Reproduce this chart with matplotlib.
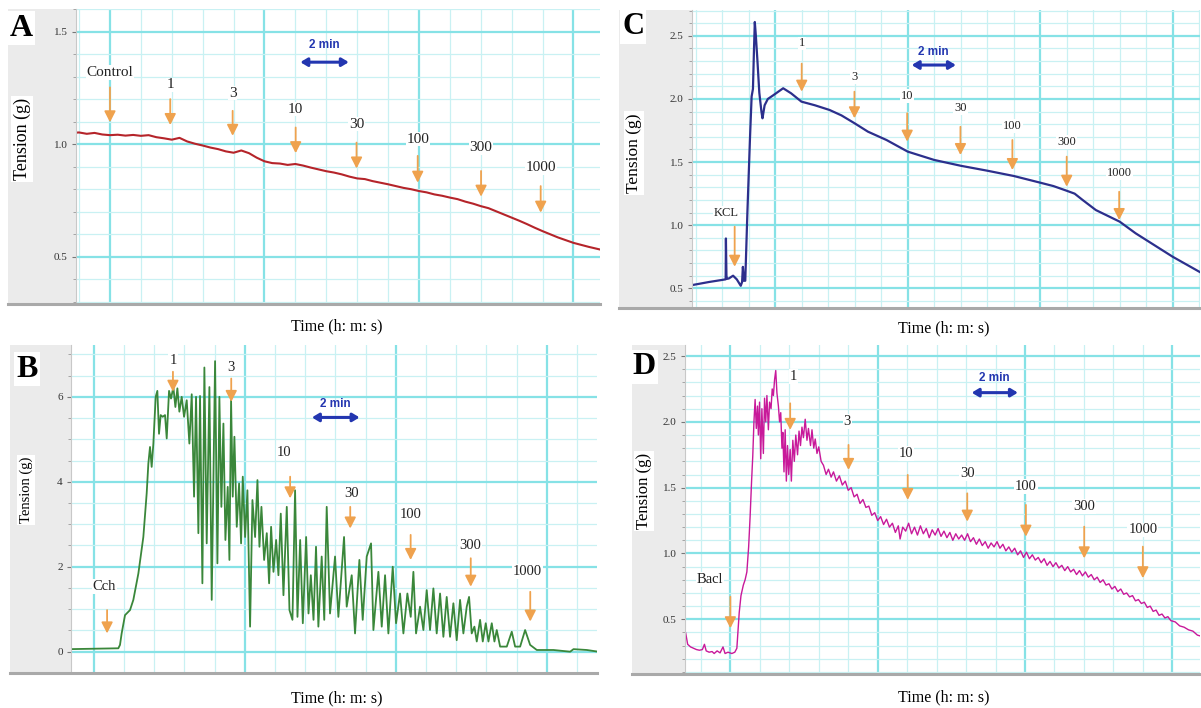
import numpy as np
import matplotlib
matplotlib.use("Agg")
import matplotlib.pyplot as plt
from matplotlib.lines import Line2D
from matplotlib.ticker import MultipleLocator, FormatStrFormatter

plt.rcParams['font.family'] = ['Liberation Serif', 'DejaVu Serif']

# x is in grid units (1 = one minor division); y is tension in g
dose_labels = ["1", "3", "10", "30", "100", "300", "1000"]

# ---- A: control ----
A_t = np.arange(-1.25, 16.01, 0.25)
A_y = [1.050, 1.052, 1.046, 1.050, 1.043, 1.040, 1.042, 1.038, 1.041, 1.037,
       1.040, 1.031, 1.026, 1.020, 1.028, 1.012, 1.002, 0.994, 0.985, 0.978,
       0.968, 0.962, 0.972, 0.960, 0.940, 0.924, 0.916, 0.914, 0.908, 0.912,
       0.905, 0.896, 0.888, 0.880, 0.874, 0.866, 0.856, 0.848, 0.845, 0.836,
       0.829, 0.822, 0.814, 0.806, 0.800, 0.792, 0.786, 0.777, 0.771, 0.763,
       0.756, 0.745, 0.736, 0.725, 0.716, 0.702, 0.688, 0.674, 0.660, 0.645,
       0.629, 0.614, 0.600, 0.586, 0.574, 0.562, 0.553, 0.544, 0.536, 0.528]
A_arrow_x = [0, 1.95, 3.97, 6.01, 7.98, 9.96, 12.01, 13.94]
A_arrow_top = [1.252, 1.200, 1.148, 1.074, 1.007, 0.948, 0.881, 0.814]
A_arrow_tip = [1.097, 1.085, 1.037, 0.960, 0.892, 0.829, 0.767, 0.696]
A_label_y = [1.319, 1.263, 1.227, 1.156, 1.089, 1.022, 0.985, 0.896]

# ---- B: carbachol ----
B_t = [-0.8, 0.812, 0.867, 0.922, 1.033, 1.199, 1.309, 1.475, 1.640, 1.751,
       1.806, 1.861, 1.916, 1.972, 2.049, 2.104, 2.159, 2.214, 2.281, 2.358,
       2.414, 2.491, 2.557, 2.634, 2.701, 2.767, 2.833, 2.910, 2.988, 3.076,
       3.164, 3.242, 3.319, 3.385, 3.462, 3.517, 3.595, 3.661, 3.738, 3.827,
       3.904, 4.015, 4.092, 4.158, 4.224, 4.291, 4.357, 4.434, 4.490, 4.545,
       4.600, 4.655, 4.733, 4.810, 4.876, 4.932, 5.009, 5.086, 5.174, 5.252,
       5.340, 5.418, 5.484, 5.550, 5.639, 5.727, 5.804, 5.870, 5.948, 6.036,
       6.113, 6.190, 6.279, 6.389, 6.478, 6.577, 6.664, 6.743, 6.832, 6.920,
       7.030, 7.108, 7.185, 7.274, 7.357, 7.435, 7.545, 7.630, 7.711, 7.821,
       7.987, 8.097, 8.285, 8.373, 8.539, 8.649, 8.793, 8.903, 9.036, 9.179,
       9.257, 9.422, 9.533, 9.643, 9.753, 9.897, 10.007, 10.139, 10.250, 10.382,
       10.493, 10.581, 10.669, 10.801, 10.912, 11.022, 11.132, 11.243, 11.353, 11.464,
       11.574, 11.684, 11.795, 11.905, 12.015, 12.126, 12.236, 12.347, 12.424, 12.512,
       12.601, 12.679, 12.789, 12.878, 12.977, 13.066, 13.176, 13.264, 13.341, 13.452,
       13.673, 13.838, 13.949, 14.115, 14.280, 14.446, 14.667, 15.219, 15.771, 15.882,
       16.324, 16.700]
B_y = [0.06, 0.08, 0.16, 0.43, 0.86, 0.98, 1.22, 1.84, 2.70, 3.73,
       4.43, 4.82, 4.35, 4.90, 6.00, 6.14, 5.13, 5.57, 5.53, 5.57,
       5.02, 6.14, 5.96, 6.23, 5.76, 6.20, 5.65, 6.00, 5.53, 5.92,
       4.90, 6.06, 3.65, 6.00, 2.79, 6.02, 1.61, 6.69, 2.55, 6.23,
       1.22, 6.84, 2.08, 6.00, 3.41, 5.37, 2.63, 3.88, 2.16, 5.92,
       3.65, 5.06, 2.94, 3.96, 2.55, 4.12, 2.70, 3.80, 0.59, 3.57,
       2.70, 4.04, 2.47, 3.41, 2.16, 2.79, 1.61, 2.94, 1.88, 2.63,
       1.80, 3.25, 1.33, 3.41, 0.98, 0.75, 3.80, 0.82, 2.63, 0.67,
       2.70, 0.90, 1.80, 0.75, 2.47, 0.59, 2.24, 0.75, 3.41, 0.90,
       2.24, 0.82, 2.70, 1.06, 1.80, 0.43, 2.16, 0.75, 2.24, 2.55,
       0.51, 1.88, 0.59, 1.80, 0.43, 2.00, 0.67, 1.37, 0.43, 1.37,
       0.82, 1.88, 0.43, 1.06, 0.51, 1.45, 0.51, 1.49, 0.43, 1.37,
       0.35, 1.29, 0.35, 1.14, 0.27, 1.22, 0.43, 1.06, 1.29, 0.43,
       0.59, 0.24, 0.75, 0.24, 0.67, 0.24, 0.67, 0.24, 0.51, 0.12,
       0.12, 0.47, 0.12, 0.12, 0.51, 0.16, 0.04, 0.04, 0.00, 0.06,
       0.04, 0.00]
B_arrow_x = [0.44, 2.62, 4.55, 6.50, 8.49, 10.49, 12.48, 14.45]
B_arrow_top = [0.98, 6.59, 6.43, 4.12, 3.41, 2.75, 2.20, 1.41]
B_arrow_tip = [0.43, 6.12, 5.88, 3.61, 2.90, 2.16, 1.53, 0.71]
B_label_x = [0.34, 2.62, 4.55, 6.30, 8.53, 10.48, 12.45, 14.36]
B_label_y = [1.53, 6.86, 6.69, 4.68, 3.73, 3.22, 2.51, 1.88]

# ---- C: KCl ----
C_t = [-3.15, -2.5, -1.87, -1.86, -1.84, -1.82, -1.75, -1.59, -1.45, -1.30,
       -1.25, -1.22, -1.18, -1.13, -1.05, -0.95, -0.89, -0.84, -0.80, -0.77,
       -0.73, -0.67, -0.60, -0.52, -0.48, -0.40, -0.28, -0.07, 0.30, 0.60,
       0.99, 1.50, 2.05, 2.50, 3.00, 3.50, 4.20, 5.00, 5.50, 6.00,
       7.00, 8.00, 9.00, 10.00, 10.50, 11.00, 11.30, 11.60, 12.10, 13.00,
       13.60, 14.30, 15.00, 16.10]
C_y = [0.525, 0.550, 0.571, 0.895, 0.600, 0.575, 0.578, 0.600, 0.571, 0.520,
       0.550, 0.670, 0.560, 0.560, 1.100, 1.700, 2.020, 2.080, 2.400, 2.610,
       2.500, 2.300, 2.050, 1.900, 1.847, 1.950, 2.000, 2.030, 2.085, 2.045,
       1.979, 1.950, 1.913, 1.870, 1.807, 1.741, 1.675, 1.583, 1.550, 1.517,
       1.471, 1.432, 1.390, 1.337, 1.310, 1.273, 1.250, 1.200, 1.120, 1.028,
       0.936, 0.843, 0.750, 0.620]
C_arrow_x = [-1.53, 1.00, 2.99, 4.98, 6.99, 8.95, 11.00, 12.98]
C_arrow_top = [0.988, 2.280, 2.058, 1.887, 1.780, 1.675, 1.543, 1.265]
C_arrow_tip = [0.671, 2.058, 1.847, 1.662, 1.556, 1.437, 1.305, 1.041]
C_label_x = [-1.85, 1.00, 2.99, 4.98, 6.99, 8.95, 11.00, 12.98]
C_label_y = [1.094, 2.440, 2.172, 2.024, 1.926, 1.786, 1.662, 1.416]

# ---- D: baclofen ----
D_t = [-1.60, -1.52, -1.45, -1.35, -1.25, -1.15, -1.05, -0.95, -0.88, -0.82,
       -0.72, -0.62, -0.55, -0.45, -0.35, -0.25, -0.18, -0.08, 0.05, 0.15,
       0.22, 0.30, 0.36, 0.44, 0.50, 0.56, 0.62, 0.67, 0.72, 0.76,
       0.80, 0.84, 0.88, 0.92, 0.95, 0.99, 1.03, 1.07, 1.12, 1.16,
       1.20, 1.24, 1.29, 1.33, 1.38, 1.42, 1.46, 1.50, 1.54, 1.58,
       1.63, 1.67, 1.71, 1.75, 1.78, 1.82, 1.86, 1.90, 1.94, 1.98,
       2.03, 2.07, 2.12, 2.17, 2.22, 2.28, 2.33, 2.38, 2.43, 2.48,
       2.54, 2.60, 2.65, 2.72, 2.77, 2.83, 2.88, 2.94, 3.00, 3.08,
       3.16, 3.25, 3.33, 3.42, 3.50, 3.60, 3.70, 3.80, 3.90, 4.00,
       4.10, 4.20, 4.30, 4.40, 4.50, 4.60, 4.70, 4.80, 4.90, 5.00,
       5.10, 5.20, 5.30, 5.40, 5.50, 5.60, 5.70, 5.76, 5.85, 5.95,
       6.05, 6.15, 6.25, 6.35, 6.45, 6.55, 6.65, 6.75, 6.85, 6.95,
       7.05, 7.15, 7.25, 7.35, 7.45, 7.55, 7.65, 7.75, 7.85, 7.95,
       8.05, 8.15, 8.25, 8.35, 8.45, 8.55, 8.65, 8.75, 8.85, 8.95,
       9.05, 9.15, 9.25, 9.35, 9.45, 9.55, 9.65, 9.75, 9.85, 9.95,
       10.05, 10.15, 10.25, 10.35, 10.45, 10.55, 10.65, 10.75, 10.85, 10.95,
       11.05, 11.15, 11.25, 11.35, 11.45, 11.55, 11.65, 11.75, 11.85, 11.95,
       12.05, 12.15, 12.25, 12.35, 12.45, 12.55, 12.65, 12.75, 12.85, 12.95,
       13.05, 13.15, 13.25, 13.35, 13.45, 13.55, 13.65, 13.75, 13.85, 13.95,
       14.05, 14.15, 14.25, 14.35, 14.45, 14.55, 14.65, 14.75, 14.85, 14.95,
       15.10, 15.25, 15.40, 15.55, 15.70, 15.85, 16.00]
D_y = [0.42, 0.40, 0.31, 0.29, 0.28, 0.27, 0.265, 0.27, 0.31, 0.26,
       0.25, 0.255, 0.24, 0.26, 0.245, 0.29, 0.24, 0.25, 0.24, 0.25,
       0.28, 0.55, 0.68, 0.76, 0.80, 0.86, 1.05, 1.28, 1.55, 1.74,
       2.00, 2.17, 1.95, 2.12, 1.90, 2.15, 1.72, 2.10, 1.76, 2.18,
       2.00, 2.20, 1.94, 2.15, 2.10, 2.25, 2.20, 2.32, 2.39, 2.22,
       2.12, 2.00, 2.07, 1.80, 1.92, 1.62, 1.94, 1.55, 1.82, 1.60,
       1.79, 1.55, 1.86, 1.70, 1.90, 1.75, 1.93, 1.82, 1.96, 1.88,
       2.02, 1.86, 1.95, 1.82, 1.94, 1.80, 1.87, 1.76, 1.81, 1.70,
       1.67, 1.60, 1.64, 1.58, 1.62, 1.55, 1.59, 1.52, 1.55, 1.48,
       1.50, 1.43, 1.45, 1.38, 1.41, 1.35, 1.36, 1.29, 1.31, 1.25,
       1.28, 1.22, 1.26, 1.20, 1.23, 1.16, 1.21, 1.11, 1.20, 1.17,
       1.23, 1.15, 1.20, 1.14, 1.21, 1.15, 1.19, 1.12, 1.18, 1.14,
       1.19, 1.13, 1.17, 1.12, 1.16, 1.10, 1.15, 1.11, 1.14, 1.10,
       1.15, 1.09, 1.12, 1.07, 1.11, 1.06, 1.09, 1.04, 1.08, 1.05,
       1.09, 1.04, 1.07, 1.02, 1.05, 1.01, 1.04, 0.99, 1.02, 0.97,
       1.01, 0.96, 0.99, 0.95, 0.97, 0.93, 0.96, 0.91, 0.94, 0.90,
       0.93, 0.89, 0.91, 0.87, 0.90, 0.86, 0.88, 0.84, 0.87, 0.83,
       0.86, 0.82, 0.84, 0.80, 0.82, 0.78, 0.80, 0.76, 0.77, 0.73,
       0.75, 0.71, 0.73, 0.69, 0.70, 0.67, 0.68, 0.64, 0.65, 0.62,
       0.63, 0.59, 0.60, 0.56, 0.57, 0.53, 0.54, 0.51, 0.52, 0.49,
       0.48, 0.45, 0.44, 0.42, 0.41, 0.38, 0.37]
D_arrow_x = [0.0, 2.03, 4.01, 6.02, 8.04, 10.03, 12.01, 14.00]
D_arrow_top = [0.672, 2.141, 1.825, 1.597, 1.457, 1.369, 1.204, 1.052]
D_arrow_tip = [0.432, 1.939, 1.635, 1.407, 1.242, 1.128, 0.963, 0.812]
D_label_x = [-0.69, 2.14, 3.97, 5.96, 8.04, 10.03, 12.01, 14.00]
D_label_y = [0.804, 2.344, 2.002, 1.761, 1.609, 1.508, 1.356, 1.179]

W, H = 1201, 708
GRAY = '#EBEBEB'
GRID_MAJ = '#86E2E6'
GRID_MIN = '#C9F1F3'
ORANGE = '#EFA24E'
BLUE = '#2336B0'

fig = plt.figure(figsize=(W / 100, H / 100), dpi=100)


def px_box(l, t, r, b):
    return [l / W, 1 - b / H, (r - l) / W, (b - t) / H]


def make_panel(strip, plot, xlim, ylim, ymaj, ymin, fmt):
    bg = fig.add_axes(px_box(strip[0], plot[1], plot[0], plot[3]))
    bg.set_facecolor(GRAY)
    bg.set_xticks([])
    bg.set_yticks([])
    for s in bg.spines.values():
        s.set_visible(False)
    ax = fig.add_axes(px_box(*plot))
    ax.set_xlim(xlim)
    ax.set_ylim(ylim)
    ax.xaxis.set_major_locator(MultipleLocator(5))
    ax.xaxis.set_minor_locator(MultipleLocator(1))
    ax.yaxis.set_major_locator(MultipleLocator(ymaj))
    ax.yaxis.set_minor_locator(MultipleLocator(ymin))
    ax.yaxis.set_major_formatter(FormatStrFormatter(fmt))
    ax.grid(which='major', color=GRID_MAJ, lw=1.6)
    ax.grid(which='minor', color=GRID_MIN, lw=0.9)
    ax.set_axisbelow(True)
    ax.tick_params(axis='x', which='both', length=0, labelbottom=False)
    ax.tick_params(axis='y', which='major', length=3, width=0.8, color='#777777',
                   labelsize=8, labelcolor='#333333', pad=3)
    ax.tick_params(axis='y', which='minor', length=2, width=0.6, color='#999999')
    for s in ['top', 'right', 'bottom']:
        ax.spines[s].set_visible(False)
    ax.spines['left'].set_color('#C8C8C8')
    yb = 1 - (plot[3] + 1) / H
    fig.add_artist(Line2D([strip[0] / W, plot[2] / W], [yb, yb], color='#A9A9A9', lw=2.2))
    return ax


def dose_arrows(ax, xs, tops, tips, lxs, lys, labels, size):
    for x, y0, y1 in zip(xs, tops, tips):
        ax.annotate('', xy=(x, y1), xytext=(x, y0),
                    arrowprops=dict(arrowstyle='-|>,head_length=0.55,head_width=0.28',
                                    color=ORANGE, lw=1.3, shrinkA=0, shrinkB=0,
                                    mutation_scale=12))
    for x, y, s in zip(lxs, lys, labels):
        ax.text(x, y, s, ha='center', va='center', fontsize=size, color='#222222',
                bbox=dict(facecolor='white', edgecolor='none', pad=0.6))


def scale_bar(ax, x0, x1, y, ty):
    ax.annotate('', xy=(x1, y), xytext=(x0, y),
                arrowprops=dict(arrowstyle='<|-|>,head_length=0.5,head_width=0.3',
                                color=BLUE, lw=2.2, shrinkA=0, shrinkB=0, mutation_scale=8))
    ax.text((x0 + x1) / 2, ty, '2 min', ha='center', va='center', fontsize=8.5,
            fontweight='bold', color=BLUE,
            family=['Liberation Sans Narrow', 'Liberation Sans', 'DejaVu Sans'])


def fig_text(x, y, s, **kw):
    fig.text(x / W, 1 - y / H, s, ha='center', va='center', **kw)


# Panel A
axA = make_panel((8, 9, 76, 303), (76, 9, 600, 303), (-1.10, 15.86), (0.295, 1.60), 0.5, 0.1, '%.1f')
axA.plot(A_t, A_y, color='#B5242A', lw=1.5)
dose_arrows(axA, A_arrow_x, A_arrow_top, A_arrow_tip, A_arrow_x, A_label_y,
            ["Control"] + dose_labels, 11)
scale_bar(axA, 6.16, 7.73, 1.364, 1.438)

# Panel B
axB = make_panel((10, 345, 71, 672), (71, 345, 597, 672), (-0.755, 16.66), (-0.478, 7.22), 2, 0.5, '%d')
axB.plot(B_t, B_y, color='#3A873A', lw=1.3)
dose_arrows(axB, B_arrow_x, B_arrow_top, B_arrow_tip, B_label_x, B_label_y,
            ["Cch"] + dose_labels, 10.5)
scale_bar(axB, 7.22, 8.80, 5.515, 5.84)

# Panel C
axC = make_panel((619, 10, 692, 307), (692, 10, 1200, 307), (-3.14, 16.03), (0.352, 2.705), 0.5, 0.1, '%.1f')
axC.plot(C_t, C_y, color='#2C2F8C', lw=1.6)
dose_arrows(axC, C_arrow_x, C_arrow_top, C_arrow_tip, C_label_x, C_label_y,
            ["KCL"] + dose_labels, 9)
scale_bar(axC, 5.15, 6.82, 2.269, 2.375)

# Panel D
axD = make_panel((632, 345, 685, 673), (685, 345, 1200, 673), (-1.54, 15.94), (0.092, 2.584), 0.5, 0.1, '%.1f')
axD.plot(D_t, D_y, color='#C8199A', lw=1.0)
dose_arrows(axD, D_arrow_x, D_arrow_top, D_arrow_tip, D_label_x, D_label_y,
            ["Bacl"] + dose_labels, 10.5)
scale_bar(axD, 8.19, 9.76, 2.222, 2.331)

# panel letters, axis titles
white = dict(facecolor='white', edgecolor='none', pad=1.5)
fig_text(21, 28, 'A', fontsize=23, fontweight='bold', bbox=white)
fig_text(27, 369, 'B', fontsize=23, fontweight='bold', bbox=white)
fig_text(633, 27, 'C', fontsize=22, fontweight='bold', bbox=white)
fig_text(644, 367, 'D', fontsize=23, fontweight='bold', bbox=white)

fig_text(22, 139, 'Tension (g)', fontsize=13, rotation=90, bbox=white)
fig_text(26, 490, 'Tension (g)', fontsize=10.5, rotation=90, bbox=white)
fig_text(634, 153, 'Tension (g)', fontsize=12.5, rotation=90, bbox=white)
fig_text(644, 491, 'Tension (g)', fontsize=12, rotation=90, bbox=white)

fig_text(337, 326, 'Time (h: m: s)', fontsize=11.5)
fig_text(337, 698, 'Time (h: m: s)', fontsize=11.5)
fig_text(944, 328, 'Time (h: m: s)', fontsize=11.5)
fig_text(944, 697, 'Time (h: m: s)', fontsize=11.5)

fig.savefig('out.png', dpi=100, facecolor='white')
